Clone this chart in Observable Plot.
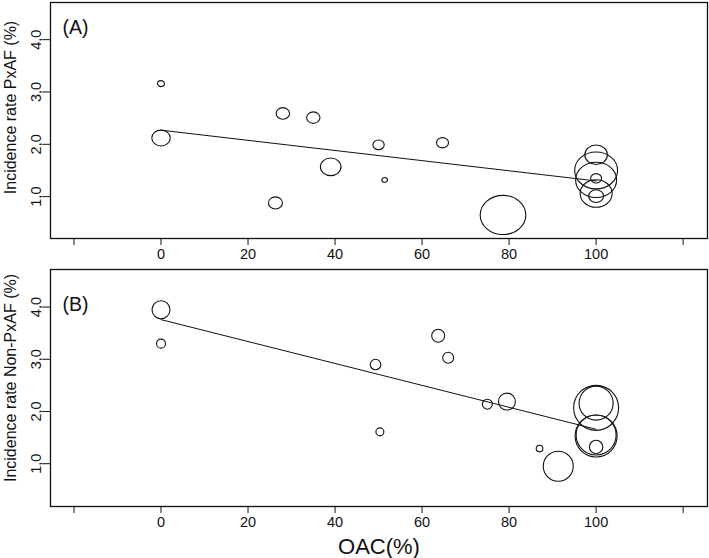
<!DOCTYPE html>
<html>
<head>
<meta charset="utf-8">
<script src="https://cdn.jsdelivr.net/npm/d3@7"></script>
<script src="https://cdn.jsdelivr.net/npm/@observablehq/plot@0.6"></script>
<style>
  html, body { margin: 0; padding: 0; background: #fff; }
  #chart { width: 709px; }
  #chart svg { display: block; }
</style>
</head>
<body>
<div id="chart"></div>
<script>
// Panel A: PxAF incidence vs OAC use
const oacA    = [0,    0,    28,   35,   39,   26.3, 50,   64.7, 51.4, 78.6, 100,  100,  100,  100,  100,  100];
const rateA   = [3.16, 2.12, 2.59, 2.51, 1.57, 0.88, 1.99, 2.03, 1.32, 0.65, 1.80, 1.50, 1.32, 1.35, 1.06, 1.01];
const weightA = [12,   85,   45,   45,   106,  49,   32,   36,   8,    520,  128,  460,  420,  30,   256,  56];
// Panel B: Non-PxAF incidence vs OAC use
const oacB    = [0,    0,    63.7, 66,   49.3, 50.3, 75,   79.5, 87,   91.3, 100,  100,  100,  100,  100];
const rateB   = [3.95, 3.30, 3.45, 3.03, 2.90, 1.61, 2.14, 2.19, 1.29, 0.95, 2.07, 2.16, 1.55, 1.53, 1.32];
const weightB = [81,   20,   42,   30,   28,   16,   25,   72,   11,   225,  506,  289,  400,  441,  45];
// Meta-regression lines (endpoints)
const regX  = [0, 100];
const regYA = [2.27, 1.30];
const regYB = [3.76, 1.66];
// Tick values
const xTicks = [-20, 0, 20, 40, 60, 80, 100, 120];
const xTickLabels = ["", "0", "20", "40", "60", "80", "100", ""];
const yTicks = [1, 2, 3, 4];
const yTickLabels = ["1,0", "2,0", "3,0", "4,0"];
const titleA = "Incidence rate PxAF (%)";
const titleB = "Incidence rate Non-PxAF (%)";
const xTitle = "OAC(%)";

const toRows = (xs, ys, ws) => xs.map((x, i) => ({x, y: ys[i], w: ws ? ws[i] : 1}));
const dataA = toRows(oacA, rateA, weightA);
const dataB = toRows(oacB, rateB, weightB);
const lineA = toRows(regX, regYA);
const lineB = toRows(regX, regYB);

const font = "'Liberation Sans', Arial, Helvetica, sans-serif";
const xFmt = d => xTickLabels[xTicks.indexOf(d)];
const yFmt = d => yTickLabels[yTicks.indexOf(d)];

// slightly squashed circle used by panel A (as in the reference picture)
const ellipseA = {
  draw(ctx, size) {
    const rx = Math.sqrt(size / Math.PI), ry = rx * 0.86, k = 0.5523;
    ctx.moveTo(rx, 0);
    ctx.bezierCurveTo(rx, ry * k, rx * k, ry, 0, ry);
    ctx.bezierCurveTo(-rx * k, ry, -rx, ry * k, -rx, 0);
    ctx.bezierCurveTo(-rx, -ry * k, -rx * k, -ry, 0, -ry);
    ctx.bezierCurveTo(rx * k, -ry, rx, -ry * k, rx, 0);
    ctx.closePath();
  }
};

function panel({data, line, title, tag, height, marginTop, marginBottom, yDomain, symbol, tagDy, titleDy, showXTitle}) {
  const marks = [
    Plot.frame({stroke: "#111", strokeWidth: 1.3}),
    Plot.axisX({ticks: xTicks, tickFormat: xFmt, tickSize: 7, tickPadding: 3, label: null, stroke: "#111"}),
    Plot.axisY({ticks: yTicks, tickFormat: yFmt, tickSize: 7, tickRotate: -90, label: null, stroke: "#111"}),
    Plot.line(line, {x: "x", y: "y", stroke: "#111", strokeWidth: 1}),
    Plot.dot(data, {x: "x", y: "y", r: "w", symbol, stroke: "#111", fill: "none", strokeWidth: 1.1}),
    Plot.text([tag], {frameAnchor: "top-left", dx: 12, dy: tagDy, lineAnchor: "bottom", textAnchor: "start", fontSize: 19.5, fill: "#111"}),
    Plot.text([title], {frameAnchor: "left", dx: -35, dy: titleDy, rotate: -90, lineAnchor: "bottom", textAnchor: "middle", fontSize: 16, fill: "#111"})
  ];
  if (showXTitle) {
    marks.push(Plot.text([xTitle], {frameAnchor: "bottom", dy: 47, lineAnchor: "bottom", textAnchor: "middle", fontSize: 22, fill: "#111"}));
  }
  return Plot.plot({
    width: 709,
    height,
    marginLeft: 50,
    marginRight: 2,
    marginTop,
    marginBottom,
    style: {fontFamily: font, fontSize: "14.5px", background: "#fff", color: "#111", overflow: "visible"},
    x: {domain: [-25.4, 125.6]},
    y: {domain: yDomain},
    r: {type: "sqrt", domain: [0, 100], range: [0, 10]},
    marks
  });
}

const chart = document.getElementById("chart");
chart.append(panel({data: dataA, line: lineA, title: titleA, tag: "(A)", height: 262, marginTop: 2, marginBottom: 24,
  yDomain: [0.2, 4.71], symbol: ellipseA, tagDy: 31, titleDy: -13, showXTitle: false}));
chart.append(panel({data: dataB, line: lineB, title: titleB, tag: "(B)", height: 296, marginTop: 7, marginBottom: 52,
  yDomain: [0.18, 4.72], symbol: "circle", tagDy: 41, titleDy: -10, showXTitle: true}));
</script>
</body>
</html>
